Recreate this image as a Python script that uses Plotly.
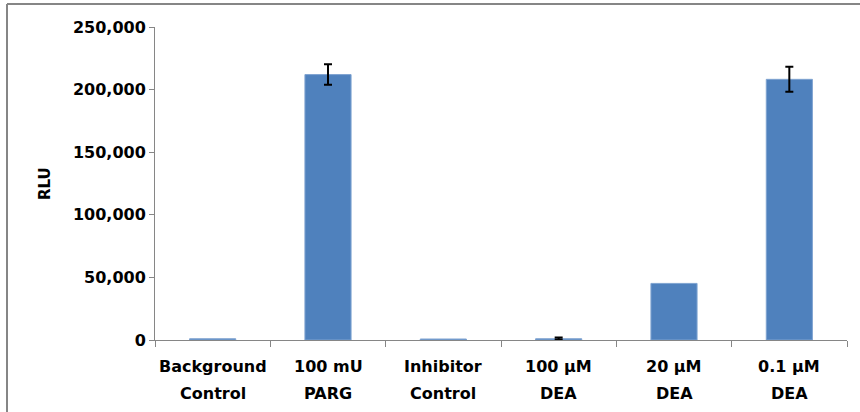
import plotly.graph_objects as go

categories = ["Background Control", "100 mU PARG", "Inhibitor Control",
              "100 µM DEA", "20 µM DEA", "0.1 µM DEA"]
label_line1 = ["Background", "100 mU", "Inhibitor", "100 µM", "20 µM", "0.1 µM"]
label_line2 = ["Control", "PARG", "Control", "DEA", "DEA", "DEA"]
rlu_values = [1000, 212000, 800, 1000, 45200, 208200]
rlu_errors = [0, 8200, 0, 900, 0, 10000]
y_ticks = [0, 50000, 100000, 150000, 200000, 250000]
y_tick_labels = ["0", "50,000", "100,000", "150,000", "200,000", "250,000"]

FONT = "DejaVu Sans"
GRAY = "#868686"

fig = go.Figure()
fig.add_trace(go.Bar(
    x=categories, y=rlu_values,
    marker=dict(color="#4F81BD", line=dict(color="#7FA3D1", width=1)),
    width=0.4,
))

# error bars only where an error value exists
err_idx = [i for i, e in enumerate(rlu_errors) if e > 0]
fig.add_trace(go.Scatter(
    x=[categories[i] for i in err_idx],
    y=[rlu_values[i] for i in err_idx],
    mode="markers", marker=dict(size=1, opacity=0),
    error_y=dict(type="data", array=[rlu_errors[i] for i in err_idx], visible=True,
                 color="#000000", thickness=2, width=4),
    hoverinfo="skip",
))

W, H = 860, 412
L, R, T, B = 155, 13, 27, 72
pw, ph = W - L - R, H - T - B

annotations = [dict(
    text="RLU", textangle=-90, xref="paper", yref="paper",
    x=(44.5 - L) / pw, y=0.5, xanchor="center", yanchor="middle",
    showarrow=False, font=dict(family=FONT, size=15, color="#000000", weight="bold"),
)]
for cat, l1, l2 in zip(categories, label_line1, label_line2):
    for txt, ypx in ((l1, 367), (l2, 393)):
        annotations.append(dict(
            text=txt, xref="x", yref="paper", x=cat, y=(340 - ypx) / ph,
            xanchor="center", yanchor="middle", showarrow=False,
            font=dict(family=FONT, size=16, color="#000000", weight="bold"),
        ))

fig.update_layout(
    width=W, height=H,
    margin=dict(l=L, r=R, t=T, b=B, pad=0),
    paper_bgcolor="white", plot_bgcolor="white",
    showlegend=False,
    font=dict(family=FONT, size=16, color="#000000"),
    xaxis=dict(
        showline=True, linecolor=GRAY, linewidth=1,
        ticks="outside", ticklen=6, tickcolor=GRAY, tickson="boundaries",
        showticklabels=False,
        showgrid=False, zeroline=False,
    ),
    yaxis=dict(
        range=[0, 250000],
        tickvals=y_ticks, ticktext=y_tick_labels,
        showline=True, linecolor=GRAY, linewidth=1,
        ticks="outside", ticklen=5, tickcolor=GRAY,
        tickfont=dict(family=FONT, size=16, color="#000000", weight="bold"),
        showgrid=False, zeroline=False,
    ),
    annotations=annotations,
    shapes=[
        dict(type="line", xref="paper", yref="paper",
             x0=(7 - L) / pw, x1=(7 - L) / pw, y0=-1, y1=1 + (T - 4) / ph,
             line=dict(color=GRAY, width=2)),
        dict(type="line", xref="paper", yref="paper",
             x0=(7 - L) / pw, x1=2, y0=1 + (T - 4) / ph, y1=1 + (T - 4) / ph,
             line=dict(color=GRAY, width=2)),
    ],
)

fig.write_html("out.html")
